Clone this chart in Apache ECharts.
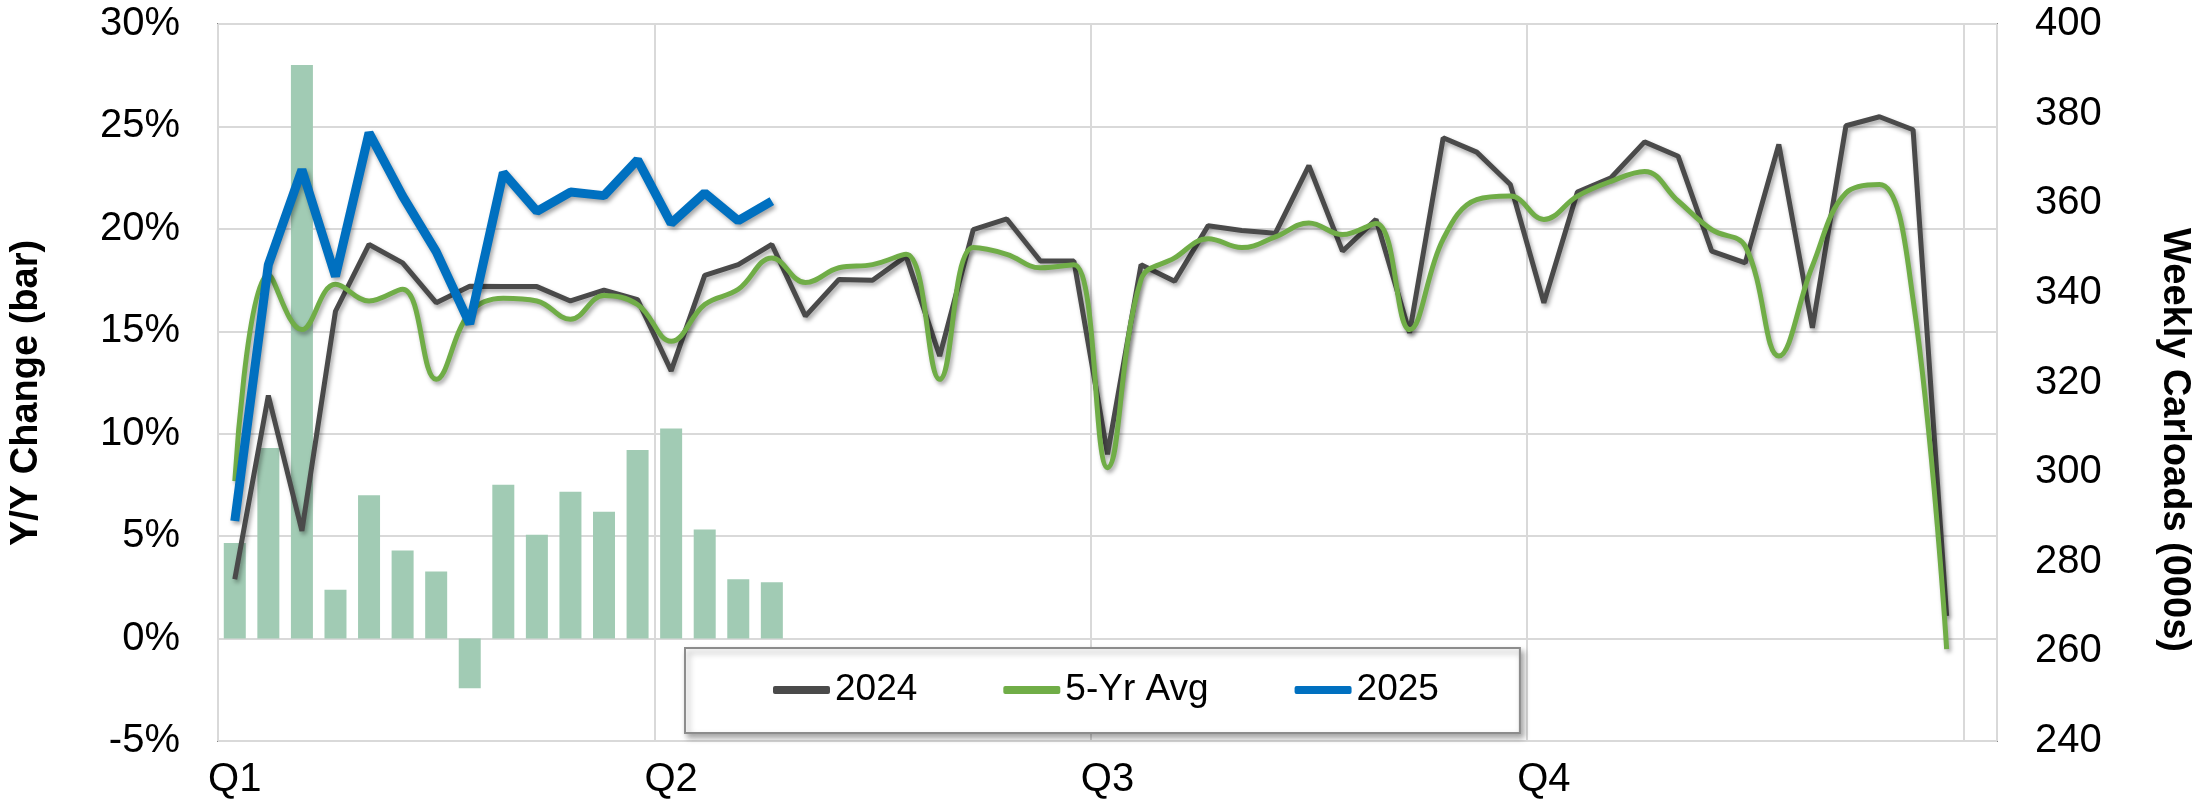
<!DOCTYPE html>
<html>
<head>
<meta charset="utf-8">
<script src="https://cdn.jsdelivr.net/npm/echarts@6/dist/echarts.min.js"></script>
<style>
  html, body { margin: 0; padding: 0; background: #fff; }
  #chart { width: 2193px; height: 808px; }
</style>
</head>
<body>
<div id="chart"></div>
<script>
// weekly categories (53 slots, the last one stays empty)
const weeks = ['W1','W2','W3','W4','W5','W6','W7','W8','W9','W10','W11','W12','W13',
  'W14','W15','W16','W17','W18','W19','W20','W21','W22','W23','W24','W25','W26',
  'W27','W28','W29','W30','W31','W32','W33','W34','W35','W36','W37','W38','W39',
  'W40','W41','W42','W43','W44','W45','W46','W47','W48','W49','W50','W51','W52','W53'];
const quarterLabels = ['Q1', 'Q2', 'Q3', 'Q4'];
const weeksPerQuarter = 13;

// Y/Y change 2025 vs 2024 (%), left axis
const yoyChange = [4.66, 9.3, 28.0, 2.38, 7.0, 4.3, 3.27, -2.42, 7.51, 5.07, 7.17, 6.19, 9.2,
  10.26, 5.33, 2.9, 2.75];

// weekly carloads (000s), right axis
const carloads2024 = [276.1, 317.1, 286.9, 335.9, 350.8, 346.7, 337.8, 341.5, 341.4, 341.4,
  338.2, 340.6, 338.5, 322.6, 343.9, 346.3, 350.8, 334.8, 343.0, 342.8,
  348.2, 325.9, 354.1, 356.5, 347.1, 347.1, 304.0, 346.3, 342.6, 355.0,
  353.9, 353.3, 368.4, 349.3, 356.4, 331.1, 374.6, 371.4, 364.2, 337.8,
  362.5, 365.7, 373.7, 370.5, 349.3, 346.7, 373.1, 332.2, 377.3, 379.3,
  376.4, 267.9];
const carloadsAvg = [298.0, 344.1, 331.8, 341.9, 338.2, 340.8, 320.7, 335.6, 338.8, 338.2,
  334.1, 339.4, 337.4, 329.2, 337.4, 340.8, 347.8, 342.3, 345.6, 346.3,
  348.6, 320.7, 350.1, 348.6, 345.6, 346.3, 301.0, 343.0, 347.8, 352.1,
  350.1, 352.5, 355.6, 353.0, 355.5, 331.8, 352.0, 360.8, 361.6, 356.4,
  361.6, 364.9, 367.1, 360.5, 354.1, 350.4, 325.9, 346.0, 362.3, 364.2,
  338.5, 260.5];
const carloads2025 = [289.1, 346.3, 367.5, 343.7, 375.7, 361.6, 349.2, 333.1, 366.8, 358.2,
  362.5, 361.7, 369.7, 355.5, 362.3, 356.1, 360.5];

const FONT = 'Liberation Sans, Arial, sans-serif';
const lineShadow = {
  shadowColor: 'rgba(0,0,0,0.35)',
  shadowBlur: 4,
  shadowOffsetX: 2,
  shadowOffsetY: 3
};

const chart = echarts.init(document.getElementById('chart'));
const option = {
  animation: false,
  textStyle: { fontFamily: FONT },
  grid: {
    left: 218, right: 196, top: 24, bottom: 67,
    show: true, borderColor: '#878787', borderWidth: 2
  },
  legend: {
    data: ['2024', '5-Yr Avg', '2025'],
    left: 685, top: 648,
    padding: [22, 81, 23, 88],
    itemGap: 86,
    itemWidth: 57,
    itemHeight: 8,
    icon: 'roundRect',
    backgroundColor: '#fff',
    borderColor: '#8c8c8c',
    borderWidth: 2,
    shadowColor: 'rgba(0,0,0,0.35)',
    shadowBlur: 6,
    shadowOffsetX: 3,
    shadowOffsetY: 4,
    textStyle: { fontSize: 37, color: '#000', fontFamily: FONT, lineHeight: 40 }
  },
  graphic: [
    {
      type: 'text', x: 27, y: 393, rotation: Math.PI / 2,
      style: {
        text: 'Y/Y Change (bar)', fill: '#000',
        font: 'bold 38px ' + FONT, align: 'center', verticalAlign: 'middle'
      }
    },
    {
      type: 'text', x: 2174, y: 440, rotation: -Math.PI / 2,
      style: {
        text: 'Weekly Carloads (000s)', fill: '#000',
        font: 'bold 38px ' + FONT, align: 'center', verticalAlign: 'middle'
      }
    }
  ],
  xAxis: {
    type: 'category',
    data: weeks,
    boundaryGap: true,
    axisLine: { show: false },
    axisTick: { show: false },
    axisLabel: {
      interval: (i) => i % weeksPerQuarter === 0 && i < 52,
      formatter: (v, i) => quarterLabels[Math.floor(i / weeksPerQuarter)] || '',
      fontSize: 40, color: '#000', margin: 19
    },
    splitLine: {
      show: true,
      interval: (i) => i % weeksPerQuarter === 0,
      lineStyle: { color: '#d9d9d9', width: 2 }
    }
  },
  yAxis: [
    {
      type: 'value', min: -5, max: 30, interval: 5,
      axisLine: { show: false },
      axisTick: { show: false },
      axisLabel: { formatter: '{value}%', fontSize: 40, color: '#000', margin: 38 },
      splitLine: { lineStyle: { color: '#d9d9d9', width: 2 } }
    },
    {
      type: 'value', min: 240, max: 400, interval: 20,
      axisLine: { show: false },
      axisTick: { show: false },
      axisLabel: { fontSize: 40, color: '#000', margin: 38 },
      splitLine: { show: false }
    }
  ],
  series: [
    {
      name: 'Y/Y Change', type: 'bar', yAxisIndex: 0,
      data: yoyChange, barWidth: 22,
      itemStyle: { color: '#a1cbb4' }
    },
    {
      name: '2024', type: 'line', yAxisIndex: 1,
      data: carloads2024, symbol: 'none',
      color: '#4a4a4a',
      lineStyle: Object.assign({ width: 5, color: '#4a4a4a' }, lineShadow)
    },
    {
      name: '5-Yr Avg', type: 'line', yAxisIndex: 1,
      data: carloadsAvg, symbol: 'none', smooth: 0.4,
      color: '#70ad47',
      lineStyle: Object.assign({ width: 5, color: '#70ad47' }, lineShadow)
    },
    {
      name: '2025', type: 'line', yAxisIndex: 1,
      data: carloads2025, symbol: 'none',
      color: '#0070c0',
      lineStyle: Object.assign({ width: 9, color: '#0070c0' }, lineShadow)
    }
  ]
};
chart.setOption(option);
</script>
</body>
</html>
